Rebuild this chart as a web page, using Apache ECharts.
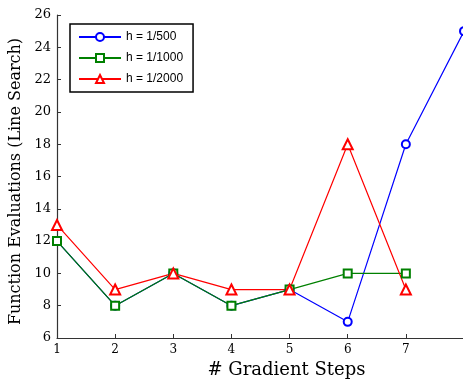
<!DOCTYPE html>
<html>
<head>
<meta charset="UTF-8">
<script src="https://cdn.jsdelivr.net/npm/echarts@6/dist/echarts.min.js"></script>
<style>
  * { margin: 0; padding: 0; }
  body { background: #fff; }
  #chart { width: 463px; height: 379px; }
</style>
</head>
<body>
<div id="chart"></div>
<script>
const steps = [1, 2, 3, 4, 5, 6, 7, 8];
const h500 = [12, 8, 10, 8, 9, 7, 18, 25];
const h1000 = [12, 8, 10, 8, 9, 10, 10];
const h2000 = [13, 9, 10, 9, 9, 18, 9];
const names = ['h = 1/500', 'h = 1/1000', 'h = 1/2000'];

const pairs = arr => arr.map((v, i) => [steps[i], v]);
const serif = 'DejaVu Serif';

const chart = echarts.init(document.getElementById('chart'));
chart.setOption({
  animation: false,
  grid: { left: 57, right: -1, top: 15, bottom: 41, outerBoundsMode: 'none', containLabel: false },
  legend: {
    left: 70, top: 24,
    orient: 'vertical',
    data: names,
    itemWidth: 42, itemHeight: 10, itemGap: 9,
    padding: [7, 10, 7, 8],
    borderColor: '#000', borderWidth: 1.5,
    textStyle: { fontFamily: 'Liberation Sans', fontSize: 12, color: '#000' }
  },
  xAxis: {
    type: 'value', min: 1, max: 8, interval: 1,
    name: '# Gradient Steps', nameLocation: 'middle', nameGap: 19,
    nameTextStyle: { fontFamily: serif, fontSize: 18, color: '#000', padding: [0, 0, 0, 52] },
    axisLine: { lineStyle: { color: '#333', width: 1.2 } },
    axisTick: { inside: true, length: 4, lineStyle: { color: '#333' } },
    axisLabel: { fontFamily: serif, fontSize: 12, color: '#000', margin: 6,
      formatter: v => v === 8 ? '' : String(v) },
    splitLine: { show: false }
  },
  yAxis: {
    type: 'value', min: 6, max: 26, interval: 2,
    name: 'Function Evaluations (Line Search)', nameLocation: 'middle', nameGap: 30,
    nameTextStyle: { fontFamily: serif, fontSize: 16, color: '#000', padding: [0, 10, 0, 0] },
    axisLine: { show: true, lineStyle: { color: '#333', width: 1.2 } },
    axisTick: { show: true, inside: true, length: 4, lineStyle: { color: '#333' } },
    axisLabel: { fontFamily: serif, fontSize: 13, color: '#000', margin: 6 },
    splitLine: { show: false }
  },
  series: [
    { name: names[0], type: 'line', data: pairs(h500), color: '#0000ff',
      symbol: 'emptyCircle', symbolSize: 8, lineStyle: { width: 1.2 }, itemStyle: { borderWidth: 1.2 } },
    { name: names[1], type: 'line', data: pairs(h1000), color: '#008000',
      symbol: 'emptyRect', symbolSize: 8, lineStyle: { width: 1.2 }, itemStyle: { borderWidth: 1.2 } },
    { name: names[2], type: 'line', data: pairs(h2000), color: '#ff0000',
      symbol: 'emptyTriangle', symbolSize: 10, lineStyle: { width: 1.2 }, itemStyle: { borderWidth: 1.2 } }
  ]
});
</script>
</body>
</html>
